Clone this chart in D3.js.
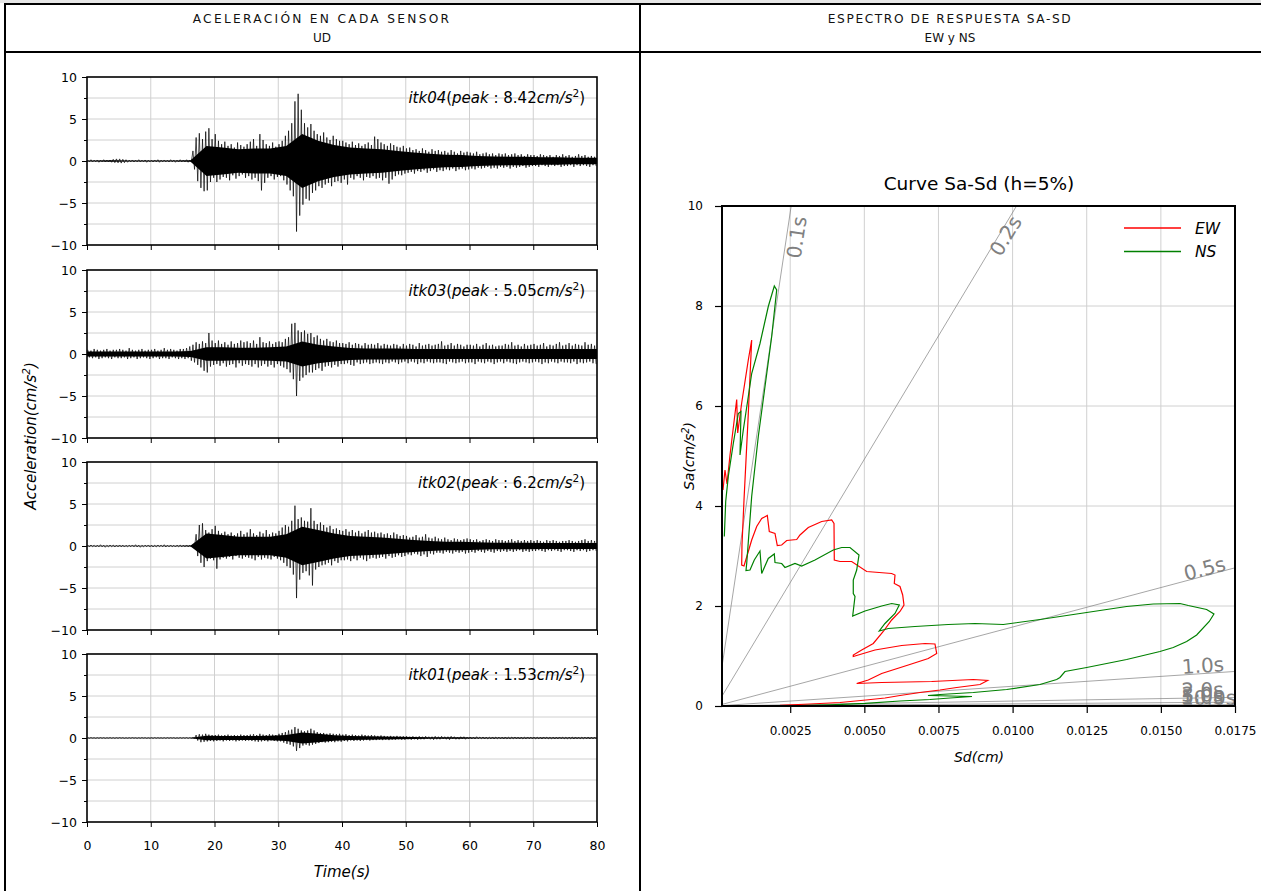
<!DOCTYPE html>
<html><head><meta charset="utf-8">
<script src="https://cdn.jsdelivr.net/npm/d3@7"></script>
<style>
body{margin:0;background:#fff;}
svg{display:block;font-family:"DejaVu Sans",sans-serif;}
</style></head>
<body><svg id="c" width="1261" height="891"></svg>
<script>
// ---------- DATA ----------
const headers = [["ACELERACIÓN EN CADA SENSOR","UD"],["ESPECTRO DE RESPUESTA SA-SD","EW y NS"]];
const sensors = ["itk04","itk03","itk02","itk01"];
const peaks = ["8.42","5.05","6.2","1.53"];
const binStep = 0.5;   // seconds per max/min bin
const coreStep = 2.5;  // seconds per dense-core half-width value
const timeTicks = [0,10,20,30,40,50,60,70,80];
const accTicks = [-10,-5,0,5,10];

const itk04Max = [0.1,0.15,0.1,0.12,0.1,0.15,0.1,0.12,0.2,0.25,
0.25,0.2,0.15,0.1,0.12,0.1,0.15,0.1,0.12,0.1,
0.1,0.12,0.15,0.1,0.12,0.1,0.15,0.12,0.1,0.15,
0.12,0.15,0.12,1.2,2.8,3.3,2.6,3.5,3.9,2.6,
3.2,2.4,2.0,2.3,1.8,2.0,1.6,2.2,1.9,1.7,
2.0,2.3,2.6,1.8,3.2,2.5,2.0,1.8,2.2,1.7,
2.0,2.4,3.0,3.6,4.5,7.1,8.0,6.1,4.5,4.0,
4.4,3.6,3.2,3.0,3.4,2.8,2.5,3.0,2.6,2.4,
2.4,2.2,2.0,2.3,1.9,2.1,1.8,2.0,2.2,1.9,
2.9,2.6,2.2,2.0,1.8,2.1,1.9,1.7,1.6,1.8,
1.5,1.6,1.3,1.4,1.2,1.5,1.3,1.1,1.4,1.2,
1.3,1.1,1.2,1.0,1.3,1.1,0.9,1.2,1.0,1.1,
1.0,0.9,1.1,0.8,0.9,1.0,0.8,0.9,0.7,0.9,
0.8,0.9,0.7,0.8,0.9,0.7,0.8,0.6,0.8,0.7,
0.7,0.6,0.8,0.7,0.6,0.7,0.5,0.7,0.6,0.8,
0.6,0.7,0.5,0.6,0.8,0.6,0.7,0.5,0.6,0.5];
const itk04Min = [-0.1,-0.12,-0.1,-0.15,-0.1,-0.12,-0.1,-0.15,-0.2,-0.22,
-0.25,-0.2,-0.15,-0.1,-0.12,-0.1,-0.12,-0.1,-0.15,-0.1,
-0.12,-0.1,-0.15,-0.1,-0.1,-0.12,-0.1,-0.15,-0.12,-0.1,
-0.1,-0.15,-0.12,-1.0,-2.4,-3.2,-3.6,-3.5,-2.5,-2.0,
-2.5,-2.2,-1.9,-2.0,-2.3,-1.7,-2.1,-1.8,-1.6,-2.0,
-1.8,-2.2,-2.0,-2.4,-3.5,-2.6,-2.0,-1.8,-2.2,-1.9,
-1.8,-2.3,-2.8,-3.5,-4.2,-8.4,-6.5,-5.2,-4.5,-4.7,
-3.8,-3.5,-3.0,-3.2,-2.8,-2.6,-3.0,-2.5,-2.4,-2.6,
-2.2,-2.8,-2.0,-2.2,-1.8,-2.0,-2.3,-1.9,-2.0,-1.8,
-2.1,-2.0,-2.3,-2.0,-2.7,-2.2,-1.8,-1.6,-1.7,-1.5,
-1.4,-1.3,-1.5,-1.2,-1.3,-1.1,-1.4,-1.2,-1.0,-1.3,
-1.1,-1.2,-1.0,-1.1,-0.9,-1.2,-1.0,-0.9,-1.1,-1.0,
-0.9,-1.0,-0.8,-0.9,-0.8,-0.7,-0.9,-0.8,-0.9,-0.7,
-0.8,-0.7,-0.9,-0.7,-0.8,-0.7,-0.6,-0.8,-0.7,-0.6,
-0.6,-0.7,-0.5,-0.6,-0.7,-0.5,-0.6,-0.5,-0.7,-0.6,
-0.6,-0.5,-0.7,-0.5,-0.6,-0.5,-0.6,-0.7,-0.5,-0.6];
const itk04Core = [0.06,0.08,0.06,0.06,0.06,0.06,0.1,1.8,1.6,1.4,1.5,1.5,1.8,3.2,2.4,1.9,
1.6,1.5,1.4,1.2,1.0,0.85,0.75,0.7,0.6,0.55,0.5,0.5,0.45,0.45,0.4,0.4];

const itk03Max = [0.5,0.4,0.6,0.5,0.4,0.5,0.6,0.4,0.5,0.5,
0.6,0.5,0.4,0.7,0.5,0.4,0.5,0.6,0.4,0.5,
0.5,0.6,0.4,0.5,0.7,0.5,0.6,0.5,0.4,0.6,
0.6,0.7,0.9,1.1,1.4,1.2,1.5,1.3,2.5,1.6,
1.3,1.6,1.2,1.4,1.1,1.5,1.2,1.3,1.6,1.4,
1.5,1.3,1.6,1.2,2.0,1.4,1.3,1.5,1.2,1.4,
1.5,1.4,1.8,2.0,3.6,3.7,2.8,2.6,2.8,2.4,
2.5,2.0,2.2,1.8,1.6,1.8,1.5,1.4,1.6,1.3,
1.3,1.2,1.4,1.1,1.3,1.2,1.0,1.3,1.1,1.2,
1.1,1.3,1.0,1.2,1.1,1.0,1.2,1.1,0.9,1.2,
1.0,1.2,1.1,0.9,1.3,1.0,1.1,1.2,1.0,1.1,
1.2,1.5,1.0,1.1,1.3,1.0,1.2,1.1,0.9,1.1,
1.1,1.0,1.2,0.9,1.1,1.3,1.0,1.1,0.9,1.0,
1.0,1.2,1.1,1.4,1.0,1.1,0.9,1.2,1.0,1.1,
1.2,1.0,1.1,1.3,0.9,1.1,1.0,1.2,1.4,1.0,
1.1,1.3,1.0,1.2,1.1,1.0,1.4,1.1,1.2,1.0];
const itk03Min = [-0.4,-0.5,-0.4,-0.6,-0.5,-0.4,-0.5,-0.6,-0.4,-0.5,
-0.5,-0.4,-0.6,-0.5,-0.4,-0.6,-0.5,-0.4,-0.5,-0.6,
-0.5,-0.4,-0.6,-0.5,-0.5,-0.6,-0.4,-0.5,-0.6,-0.5,
-0.6,-0.5,-0.8,-1.0,-1.3,-1.6,-2.0,-2.2,-1.5,-1.3,
-1.2,-1.4,-1.1,-1.5,-1.3,-1.2,-1.6,-1.1,-1.4,-1.2,
-1.3,-1.5,-1.2,-1.6,-1.4,-1.2,-1.5,-1.3,-1.6,-1.2,
-1.4,-1.6,-1.8,-2.2,-3.0,-5.0,-3.2,-2.8,-2.5,-2.2,
-2.2,-1.9,-1.7,-2.0,-1.5,-1.4,-1.6,-1.3,-1.5,-1.2,
-1.2,-1.1,-1.3,-1.4,-1.0,-1.2,-1.1,-1.0,-1.2,-1.1,
-1.0,-1.1,-1.2,-1.0,-1.1,-0.9,-1.0,-1.2,-1.0,-0.9,
-1.1,-0.9,-1.0,-1.2,-1.0,-1.1,-0.9,-1.0,-1.1,-1.0,
-1.0,-1.1,-1.2,-0.9,-1.0,-1.1,-1.0,-0.9,-1.1,-1.0,
-1.0,-1.2,-0.9,-1.0,-1.1,-0.9,-1.0,-1.2,-1.0,-0.9,
-1.1,-0.9,-1.0,-1.1,-1.2,-1.0,-0.9,-1.0,-1.1,-1.0,
-0.9,-1.0,-1.2,-1.0,-1.1,-0.9,-1.0,-1.1,-0.9,-1.0,
-1.0,-1.1,-0.9,-1.2,-1.0,-1.1,-1.0,-0.9,-1.1,-1.2];
const itk03Core = [0.3,0.3,0.3,0.3,0.3,0.3,0.35,0.8,0.8,0.75,0.75,0.8,0.9,1.5,1.1,0.9,
0.7,0.65,0.65,0.65,0.6,0.6,0.6,0.6,0.6,0.6,0.6,0.6,0.6,0.6,0.6,0.6];

const itk02Max = [0.1,0.12,0.08,0.1,0.15,0.1,0.08,0.12,0.1,0.1,
0.12,0.1,0.08,0.1,0.12,0.15,0.1,0.08,0.1,0.12,
0.1,0.08,0.12,0.1,0.15,0.1,0.12,0.08,0.1,0.1,
0.1,0.12,0.1,0.1,1.4,2.5,2.7,1.9,1.6,2.0,
2.4,1.8,1.5,1.7,1.4,1.6,1.3,1.5,1.8,1.4,
1.6,2.0,1.5,1.3,1.7,1.5,1.9,1.4,1.6,1.5,
1.8,2.2,2.5,2.3,3.0,4.8,3.2,3.4,3.0,2.9,
4.5,3.0,2.6,2.8,2.5,2.2,2.4,2.0,2.1,1.9,
1.8,2.0,1.7,1.9,1.6,1.8,1.5,1.7,1.9,1.6,
1.7,1.5,1.6,1.4,1.5,1.3,1.6,1.4,1.2,1.3,
1.2,1.0,1.1,1.3,1.0,1.1,1.4,1.0,0.9,1.1,
0.9,0.8,1.0,0.8,0.7,0.9,0.8,0.7,0.8,0.9,
0.8,0.7,0.8,0.6,0.7,0.8,0.7,0.6,0.8,0.7,
0.7,0.6,0.7,0.8,0.6,0.7,0.6,0.7,0.6,0.7,
0.6,0.7,0.6,0.5,0.7,0.6,0.7,0.6,0.5,0.6,
0.6,0.7,0.6,0.5,0.6,0.7,0.8,0.6,0.7,0.6];
const itk02Min = [-0.1,-0.08,-0.12,-0.1,-0.1,-0.15,-0.1,-0.08,-0.12,-0.1,
-0.1,-0.12,-0.1,-0.08,-0.1,-0.12,-0.15,-0.1,-0.08,-0.1,
-0.12,-0.1,-0.08,-0.1,-0.12,-0.1,-0.1,-0.12,-0.08,-0.1,
-0.1,-0.1,-0.12,-0.1,-1.2,-2.0,-2.5,-1.8,-1.5,-1.7,
-2.7,-1.6,-1.4,-1.5,-1.3,-1.6,-1.2,-1.4,-1.5,-1.3,
-1.4,-1.5,-1.7,-1.3,-1.6,-1.4,-1.5,-1.6,-1.3,-1.5,
-1.7,-2.0,-2.4,-2.6,-3.4,-6.2,-4.0,-3.2,-3.0,-3.5,
-4.7,-2.8,-2.5,-2.3,-2.2,-2.0,-2.3,-1.8,-2.0,-1.7,
-1.7,-1.6,-1.8,-1.5,-1.7,-1.4,-1.6,-1.8,-1.5,-1.4,
-1.5,-1.4,-1.3,-1.5,-1.2,-1.4,-1.3,-1.1,-1.3,-1.2,
-1.0,-1.1,-0.9,-1.0,-1.2,-1.0,-1.3,-0.9,-1.0,-0.8,
-0.8,-0.9,-0.7,-0.8,-0.9,-0.7,-0.8,-0.7,-0.9,-0.8,
-0.7,-0.8,-0.6,-0.7,-0.8,-0.6,-0.7,-0.8,-0.6,-0.7,
-0.6,-0.7,-0.6,-0.7,-0.6,-0.5,-0.7,-0.6,-0.7,-0.6,
-0.6,-0.5,-0.6,-0.7,-0.5,-0.6,-0.5,-0.6,-0.7,-0.5,
-0.5,-0.6,-0.7,-0.5,-0.6,-0.5,-0.7,-0.6,-0.5,-0.6];
const itk02Core = [0.04,0.04,0.04,0.04,0.04,0.04,0.06,1.5,1.3,1.1,1.1,1.1,1.4,2.3,1.9,1.5,
1.2,1.1,1.0,0.85,0.7,0.6,0.5,0.5,0.45,0.4,0.4,0.4,0.35,0.35,0.35,0.35];

const itk01Max = [0.04,0.05,0.03,0.04,0.05,0.04,0.03,0.05,0.04,0.04,
0.05,0.04,0.03,0.04,0.05,0.03,0.04,0.05,0.04,0.03,
0.04,0.05,0.04,0.03,0.04,0.05,0.04,0.04,0.03,0.05,
0.04,0.05,0.04,0.05,0.35,0.45,0.4,0.5,0.4,0.35,
0.35,0.4,0.3,0.35,0.4,0.3,0.35,0.3,0.4,0.35,
0.35,0.4,0.45,0.35,0.5,0.4,0.35,0.45,0.4,0.35,
0.5,0.6,0.7,0.9,1.0,1.3,1.1,0.9,0.8,0.9,
1.1,0.9,0.7,0.6,0.6,0.5,0.55,0.5,0.45,0.5,
0.4,0.45,0.35,0.4,0.35,0.3,0.4,0.35,0.3,0.35,
0.3,0.25,0.3,0.25,0.2,0.25,0.2,0.25,0.2,0.2,
0.2,0.15,0.2,0.15,0.2,0.15,0.2,0.15,0.15,0.2,
0.15,0.2,0.15,0.15,0.2,0.15,0.1,0.15,0.15,0.1,
0.12,0.1,0.15,0.1,0.12,0.1,0.08,0.12,0.1,0.1,
0.1,0.12,0.08,0.1,0.12,0.1,0.1,0.08,0.12,0.1,
0.1,0.08,0.1,0.12,0.1,0.08,0.1,0.1,0.12,0.1,
0.08,0.1,0.1,0.12,0.1,0.08,0.1,0.12,0.1,0.1];
const itk01Min = [-0.04,-0.03,-0.05,-0.04,-0.04,-0.05,-0.03,-0.04,-0.05,-0.04,
-0.03,-0.05,-0.04,-0.04,-0.03,-0.05,-0.04,-0.03,-0.05,-0.04,
-0.05,-0.04,-0.03,-0.04,-0.05,-0.04,-0.03,-0.05,-0.04,-0.04,
-0.04,-0.05,-0.04,-0.05,-0.3,-0.5,-0.45,-0.4,-0.35,-0.4,
-0.35,-0.3,-0.4,-0.3,-0.35,-0.3,-0.4,-0.35,-0.3,-0.35,
-0.3,-0.35,-0.4,-0.45,-0.4,-0.35,-0.4,-0.3,-0.35,-0.4,
-0.4,-0.55,-0.7,-0.8,-1.0,-1.53,-1.2,-0.9,-0.8,-0.9,
-0.8,-0.7,-0.6,-0.5,-0.55,-0.5,-0.45,-0.5,-0.4,-0.45,
-0.35,-0.4,-0.3,-0.35,-0.3,-0.35,-0.3,-0.25,-0.3,-0.25,
-0.25,-0.2,-0.25,-0.2,-0.25,-0.2,-0.2,-0.15,-0.2,-0.2,
-0.15,-0.2,-0.15,-0.2,-0.15,-0.15,-0.1,-0.15,-0.2,-0.15,
-0.15,-0.1,-0.15,-0.2,-0.1,-0.15,-0.15,-0.1,-0.15,-0.1,
-0.1,-0.12,-0.1,-0.08,-0.12,-0.1,-0.1,-0.12,-0.08,-0.1,
-0.12,-0.1,-0.1,-0.08,-0.1,-0.12,-0.1,-0.1,-0.08,-0.1,
-0.1,-0.1,-0.12,-0.08,-0.1,-0.1,-0.12,-0.1,-0.08,-0.1,
-0.1,-0.08,-0.12,-0.1,-0.1,-0.08,-0.1,-0.12,-0.1,-0.1];
const itk01Core = [0.02,0.02,0.02,0.02,0.02,0.02,0.03,0.28,0.25,0.25,0.25,0.27,0.35,0.65,0.5,0.33,
0.25,0.2,0.17,0.14,0.12,0.1,0.09,0.08,0.07,0.07,0.06,0.06,0.06,0.06,0.06,0.06];

// Sa-Sd curves (Sd in cm, Sa in cm/s2)
const ewSd = [0.000234,0.000301,0.000369,0.00047,0.000696,0.000729,0.000864,0.001087,0.001201,0.001077,0.000942,0.000874,0.000864,0.000942,0.001087,0.001201,0.00137,0.001539,0.001728,0.001795,0.001987,0.002065,0.002213,0.002382,0.002719,0.00283,0.00311,0.003562,0.003899,0.003977,0.003987,0.004179,0.004573,0.005079,0.005922,0.006034,0.00601,0.006202,0.006293,0.006337,0.006202,0.005922,0.005639,0.005302,0.004911,0.004627,0.004627,0.005359,0.00626,0.007045,0.007382,0.00744,0.007156,0.006482,0.005585,0.005133,0.004742,0.005585,0.007271,0.008674,0.009159,0.0089,0.008114,0.007551,0.006877,0.006202,0.005697,0.005056,0.004179,0.003167,0.002156];
const ewSa = [4.32,4.72,4.44,5.02,6.13,5.46,6.06,6.92,7.32,5.72,4.12,3.22,2.82,2.8,3.09,3.32,3.59,3.75,3.81,3.49,3.45,3.21,3.22,3.31,3.33,3.42,3.57,3.69,3.72,3.65,2.92,2.89,2.89,2.69,2.65,2.62,2.45,2.39,2.22,2.02,1.89,1.72,1.49,1.25,1.12,1.02,0.99,1.12,1.21,1.25,1.24,1.05,0.95,0.82,0.65,0.52,0.45,0.47,0.49,0.53,0.51,0.43,0.37,0.32,0.27,0.21,0.16,0.12,0.07,0.04,0.014];
const nsSd = [0.000278,0.000325,0.000412,0.000581,0.00075,0.000841,0.000807,0.000918,0.001087,0.001201,0.001481,0.001761,0.001964,0.002044,0.001876,0.00165,0.001424,0.001201,0.001033,0.001009,0.001144,0.001289,0.001481,0.001539,0.001761,0.001964,0.001987,0.002213,0.002324,0.002662,0.002887,0.003336,0.003953,0.004236,0.004516,0.00482,0.004742,0.004627,0.004627,0.004685,0.004607,0.005022,0.005585,0.005922,0.006179,0.006034,0.005696,0.005504,0.005808,0.006708,0.007831,0.008731,0.009686,0.010923,0.012498,0.013846,0.014744,0.015644,0.015924,0.016544,0.01679,0.016632,0.016207,0.01587,0.015418,0.014969,0.013846,0.012498,0.011766,0.011597,0.011486,0.010923,0.0098,0.008674,0.007551,0.007146,0.00863,0.007888,0.007214,0.006202,0.005022,0.003842,0.00283];
const nsSa = [3.39,4.09,4.59,5.25,5.85,5.89,5.02,5.52,6.19,6.65,7.25,7.99,8.4,8.32,7.39,6.39,5.39,4.19,2.85,2.71,2.72,2.92,3.1,2.65,2.95,3.04,2.87,2.85,2.77,2.85,2.8,2.92,3.12,3.17,3.17,3.02,2.72,2.52,2.25,2.19,1.8,1.9,2.0,2.05,2.02,1.85,1.65,1.5,1.55,1.59,1.63,1.65,1.63,1.73,1.87,1.99,2.04,2.05,2.01,1.93,1.84,1.69,1.42,1.29,1.17,1.09,0.93,0.77,0.69,0.57,0.53,0.43,0.33,0.27,0.23,0.21,0.19,0.16,0.13,0.1,0.054,0.024,0.01];
const periods = [0.1,0.2,0.5,1.0,2.0,3.0,5.0,10.0];
const sdTicks = [0.0025,0.005,0.0075,0.01,0.0125,0.015,0.0175];
const saTicks = [0,2,4,6,8,10];
const legendNames = ["EW","NS"];

// ---------- DRAW ----------
const svg = d3.select("#c");
const W = 1261, H = 891;

// table frame
svg.append("rect").attr("x",0).attr("y",0).attr("width",W).attr("height",3).attr("fill","#e6e6e6");
const frame = svg.append("g").attr("stroke","#000").attr("stroke-width",2);
frame.append("line").attr("x1",4).attr("x2",W).attr("y1",4).attr("y2",4);
frame.append("line").attr("x1",4).attr("x2",W).attr("y1",52).attr("y2",52);
frame.append("line").attr("x1",5).attr("x2",5).attr("y1",3).attr("y2",H);
frame.append("line").attr("x1",640).attr("x2",640).attr("y1",3).attr("y2",H);
const hdrX = [322, 950];
const hdrSpacing = [2.3, 1.6];
headers.forEach((h,i)=>{
  svg.append("text").attr("x",hdrX[i]).attr("y",22.5).attr("text-anchor","middle")
    .attr("font-size",12.2).attr("letter-spacing",hdrSpacing[i]).attr("fill","#111").text(h[0]);
  svg.append("text").attr("x",hdrX[i]).attr("y",42).attr("text-anchor","middle")
    .attr("font-size",12).attr("fill","#111").text(h[1]);
});

// ---------- left: accelerations ----------
const waveMax = [itk04Max, itk03Max, itk02Max, itk01Max];
const waveMin = [itk04Min, itk03Min, itk02Min, itk01Min];
const waveCore = [itk04Core, itk03Core, itk02Core, itk01Core];
const xT = d3.scaleLinear().domain([0,80]).range([87,597]);
const tops = [77,270,462,654], ph = 168;
const gridMinor = [-7.5,-5,-2.5,0,2.5,5,7.5];

sensors.forEach((s,k)=>{
  const top = tops[k];
  const y = d3.scaleLinear().domain([-10,10]).range([top+ph, top]);
  const g = svg.append("g");
  const cid = "clipw"+k;
  svg.append("clipPath").attr("id",cid).append("rect")
    .attr("x",xT(0)).attr("y",top).attr("width",xT(80)-xT(0)).attr("height",ph);
  // grid
  g.selectAll(".gy").data(gridMinor).join("line")
    .attr("x1",xT(0)).attr("x2",xT(80)).attr("y1",d=>y(d)).attr("y2",d=>y(d))
    .attr("stroke","#d0d0d0").attr("stroke-width",1);
  g.selectAll(".gx").data(timeTicks.slice(1,-1)).join("line")
    .attr("x1",d=>xT(d)).attr("x2",d=>xT(d)).attr("y1",top).attr("y2",top+ph)
    .attr("stroke","#d0d0d0").attr("stroke-width",1);
  // dense core of the record
  const core = waveCore[k].map((v,i)=>[i*coreStep+coreStep/2, v]);
  core.unshift([0, waveCore[k][0]]); core.push([80, waveCore[k][waveCore[k].length-1]]);
  g.append("path").attr("clip-path",`url(#${cid})`)
    .attr("d", d3.area().x(d=>xT(d[0])).y0(d=>y(-d[1])).y1(d=>y(d[1]))(core))
    .attr("fill","#000");
  // peaks: zigzag through the max/min of each bin
  const zig = [];
  waveMax[k].forEach((v,i)=>{
    zig.push([i*binStep+0.12, v]);
    zig.push([i*binStep+0.37, waveMin[k][i]]);
  });
  g.append("path").attr("clip-path",`url(#${cid})`)
    .attr("d", d3.line().x(d=>xT(d[0])).y(d=>y(d[1]))(zig))
    .attr("fill","none").attr("stroke","#000").attr("stroke-width",0.7);
  // axes
  const ya = d3.axisLeft(y).tickValues(accTicks).tickSize(5).tickPadding(5);
  const yaG = g.append("g").attr("transform",`translate(${xT(0)},0)`).call(ya);
  const ym = d3.axisLeft(y).tickValues([-7.5,-2.5,2.5,7.5]).tickSize(3).tickFormat("");
  const ymG = g.append("g").attr("transform",`translate(${xT(0)},0)`).call(ym);
  const xa = d3.axisBottom(xT).tickValues(timeTicks).tickSize(5).tickPadding(14);
  if (k<3) xa.tickFormat("");
  const xaG = g.append("g").attr("transform",`translate(0,${top+ph})`).call(xa);
  [yaG,ymG,xaG].forEach(a=>{
    a.select(".domain").remove();
    a.selectAll("line").attr("stroke","#000").attr("stroke-width",1);
    a.selectAll("text").attr("font-size",12.5).attr("fill","#000").attr("font-family","DejaVu Sans");
  });
  g.append("rect").attr("x",xT(0)).attr("y",top).attr("width",xT(80)-xT(0)).attr("height",ph)
    .attr("fill","none").attr("stroke","#000").attr("stroke-width",1.6);
  // annotation
  const t = g.append("text").attr("x",585).attr("y",top+26).attr("text-anchor","end")
    .attr("font-size",15).attr("fill","#000");
  t.append("tspan").attr("font-style","italic").text(s);
  t.append("tspan").text("(");
  t.append("tspan").attr("font-style","italic").text("peak");
  t.append("tspan").text(" : "+peaks[k]);
  t.append("tspan").attr("font-style","italic").text("cm/s");
  t.append("tspan").attr("font-size",10.5).attr("dy","-0.55em").text("2");
  t.append("tspan").attr("dy","0.38em").text(")");
});
// axis labels left
svg.append("text").attr("x",342).attr("y",877).attr("text-anchor","middle")
  .attr("font-size",15).attr("font-style","italic").text("Time(s)");
const yl = svg.append("text").attr("transform","translate(36,436) rotate(-90)").attr("text-anchor","middle")
  .attr("font-size",15).attr("font-style","italic");
yl.append("tspan").text("Acceleration(cm/s");
yl.append("tspan").attr("font-size",10.5).attr("dy","-0.55em").text("2");
yl.append("tspan").attr("dy","0.38em").text(")");

// ---------- right: Sa-Sd ----------
const xS = d3.scaleLinear().domain([0.0002,0.0175]).range([722,1235]);
const yS = d3.scaleLinear().domain([0,10]).range([706,206]);
const rg = svg.append("g");
svg.append("clipPath").attr("id","clips").append("rect")
  .attr("x",722).attr("y",206).attr("width",1235-722).attr("height",500);
// grid
rg.selectAll(".gx").data(sdTicks.slice(0,-1)).join("line")
  .attr("x1",d=>xS(d)).attr("x2",d=>xS(d)).attr("y1",206).attr("y2",706)
  .attr("stroke","#d0d0d0").attr("stroke-width",1);
rg.selectAll(".gy").data(saTicks.slice(1,-1)).join("line")
  .attr("x1",722).attr("x2",1235).attr("y1",d=>yS(d)).attr("y2",d=>yS(d))
  .attr("stroke","#d0d0d0").attr("stroke-width",1);
// period lines
const pxX = (xS(0.0175)-xS(0.0002))/(0.0175-0.0002);
const pxY = (yS(0)-yS(10))/10;
const pl = rg.append("g").attr("clip-path","url(#clips)");
periods.forEach(T=>{
  const w2 = Math.pow(2*Math.PI/T,2);
  pl.append("line").attr("x1",xS(0)).attr("y1",yS(0)).attr("x2",xS(0.0175)).attr("y2",yS(w2*0.0175))
    .attr("stroke","#808080").attr("stroke-width",0.7);
});
// period labels
periods.forEach(T=>{
  const w2 = Math.pow(2*Math.PI/T,2);
  let ax, ay;
  if (10/w2 < 0.0175) { ay = 9; ax = ay/w2; } else { ax = 0.0175*0.9; ay = w2*ax; }
  const ang = Math.atan(w2*pxY/pxX)*180/Math.PI;
  const lg = rg.append("g");
  lg.append("text").attr("transform",`rotate(${-ang})`).attr("font-size",20)
    .attr("fill","#808080").text(T.toFixed(1)+"s");
  const bb = lg.node().getBBox();
  lg.attr("transform",`translate(${xS(ax)-bb.x-2},${yS(ay)-(bb.y+bb.height)+4})`);
});
// curves
const lineS = d3.line().x(d=>xS(d[0])).y(d=>yS(d[1]));
const ewPts = ewSd.map((v,i)=>[v,ewSa[i]]);
const nsPts = nsSd.map((v,i)=>[v,nsSa[i]]);
const cg = rg.append("g").attr("clip-path","url(#clips)");
cg.append("path").attr("d",lineS(ewPts)).attr("fill","none").attr("stroke","#ff0000").attr("stroke-width",1.2);
cg.append("path").attr("d",lineS(nsPts)).attr("fill","none").attr("stroke","#008000").attr("stroke-width",1.2);
// axes
const xaS = rg.append("g").attr("transform","translate(0,706)")
  .call(d3.axisBottom(xS).tickValues(sdTicks).tickFormat(d3.format(".4f")).tickSize(7).tickPadding(13));
const yaS = rg.append("g").attr("transform","translate(722,0)")
  .call(d3.axisLeft(yS).tickValues(saTicks).tickSize(7).tickPadding(12));
[xaS,yaS].forEach(a=>{
  a.select(".domain").remove();
  a.selectAll("line").attr("stroke","#000").attr("stroke-width",1.2);
  a.selectAll("text").attr("font-size",12).attr("fill","#000").attr("font-family","DejaVu Sans");
});
rg.append("rect").attr("x",722).attr("y",206).attr("width",1235-722).attr("height",500)
  .attr("fill","none").attr("stroke","#000").attr("stroke-width",2);
// title & labels
svg.append("text").attr("x",979).attr("y",190).attr("text-anchor","middle")
  .attr("font-size",18.5).text("Curve Sa-Sd (h=5%)");
svg.append("text").attr("x",979).attr("y",762).attr("text-anchor","middle")
  .attr("font-size",14).attr("font-style","italic").text("Sd(cm)");
const sl = svg.append("text").attr("transform","translate(694,456) rotate(-90)").attr("text-anchor","middle")
  .attr("font-size",14).attr("font-style","italic");
sl.append("tspan").text("Sa(cm/s");
sl.append("tspan").attr("font-size",10).attr("dy","-0.55em").text("2");
sl.append("tspan").attr("dy","0.38em").text(")");
// legend
const legColors = ["#ff0000","#008000"];
legendNames.forEach((n,i)=>{
  const ly = 228 + i*23.5;
  svg.append("line").attr("x1",1124).attr("x2",1181).attr("y1",ly).attr("y2",ly)
    .attr("stroke",legColors[i]).attr("stroke-width",1.4);
  svg.append("text").attr("x",1195).attr("y",ly+5.5).attr("font-size",15.5)
    .attr("font-style","italic").text(n);
});
</script>
</body></html>
